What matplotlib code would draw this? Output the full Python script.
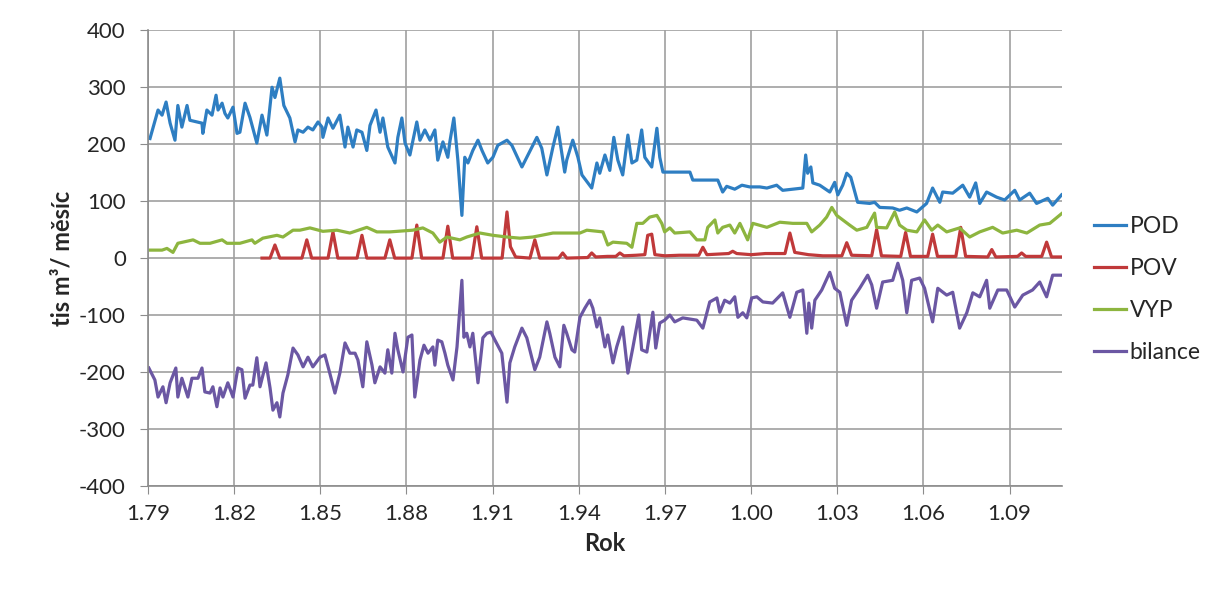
import matplotlib
matplotlib.use("Agg")
import matplotlib.pyplot as plt

# POD - odbery podzemni vody (tis. m3 / mesic)
pod_t = [1979.07, 1979.35, 1979.49, 1979.63, 1979.77, 1979.94, 1980.04, 1980.18, 1980.36, 1980.46,
         1980.88, 1980.91, 1981.05, 1981.23, 1981.37, 1981.44, 1981.58, 1981.68, 1981.78, 1981.96,
         1982.10, 1982.20, 1982.38, 1982.55, 1982.79, 1982.97, 1983.14, 1983.32, 1983.42, 1983.59,
         1983.73, 1983.94, 1984.12, 1984.22, 1984.40, 1984.57, 1984.74, 1984.92, 1985.06, 1985.09,
         1985.27, 1985.44, 1985.68, 1985.86, 1985.96, 1986.14, 1986.27, 1986.45, 1986.62, 1986.73,
         1986.94, 1987.08, 1987.18, 1987.35, 1987.60, 1987.70, 1987.84, 1987.95, 1988.12, 1988.36,
         1988.47, 1988.64, 1988.82, 1988.99, 1989.09, 1989.27, 1989.44, 1989.51, 1989.65, 1989.79,
         1989.93, 1990.03, 1990.14, 1990.31, 1990.49, 1990.63, 1990.83, 1991.01, 1991.18, 1991.50,
         1991.67, 1992.02, 1992.19, 1992.54, 1992.71, 1992.89, 1993.10, 1993.27, 1993.51, 1993.58,
         1993.79, 1993.97, 1994.11, 1994.45, 1994.63, 1994.73, 1994.91, 1995.08, 1995.22, 1995.36,
         1995.53, 1995.71, 1995.85, 1996.02, 1996.19, 1996.30, 1996.54, 1996.72, 1996.82, 1996.93,
         1997.87, 1997.97, 1998.84, 1999.01, 1999.15, 1999.43, 1999.68, 1999.95, 2000.30, 2000.55,
         2000.89, 2001.10, 2001.80, 2001.90, 2001.97, 2002.08, 2002.15, 2002.39, 2002.74, 2002.91,
         2003.02, 2003.19, 2003.33, 2003.47, 2003.61, 2003.71, 2004.13, 2004.30, 2004.48, 2004.93,
         2005.17, 2005.42, 2005.77, 2006.11, 2006.32, 2006.57, 2006.67, 2007.02, 2007.37, 2007.61,
         2007.82, 2007.96, 2008.20, 2008.55, 2008.83, 2009.18, 2009.35, 2009.70, 2009.94, 2010.33,
         2010.50, 2010.81]
pod_v = [210, 260, 251, 274, 237, 207, 268, 230, 268, 242,
         237, 219, 260, 251, 286, 260, 272, 254, 246, 265,
         219, 221, 272, 247, 202, 251, 216, 300, 282, 316,
         268, 246, 204, 225, 221, 230, 225, 239, 230, 212,
         246, 228, 251, 195, 230, 195, 225, 221, 189, 233,
         260, 221, 246, 195, 167, 212, 246, 202, 181, 239,
         207, 225, 207, 225, 172, 204, 177, 204, 246, 172,
         75, 177, 167, 189, 207, 189, 167, 177, 198, 207,
         198, 160, 177, 212, 193, 146, 195, 230, 151, 172,
         207, 177, 146, 123, 167, 149, 181, 154, 212, 172,
         146, 216, 167, 172, 225, 177, 160, 228, 177, 151,
         151, 137, 137, 116, 126, 121, 128, 125, 125, 123,
         128, 119, 123, 181, 149, 160, 132, 128, 116, 133,
         111, 128, 149, 142, 116, 98, 96, 98, 89, 88,
         84, 88, 81, 96, 123, 98, 116, 114, 128, 107,
         132, 96, 116, 107, 102, 119, 102, 114, 96, 105,
         93, 111]

# POV - odbery povrchove vody
pov_t = [1982.97, 1983.25, 1983.42, 1983.59, 1984.36, 1984.53, 1984.70, 1985.27, 1985.44, 1985.61,
         1986.28, 1986.45, 1986.62, 1987.25, 1987.42, 1987.59, 1988.19, 1988.36, 1988.53, 1989.27,
         1989.44, 1989.61, 1990.28, 1990.45, 1990.62, 1991.33, 1991.50, 1991.62, 1991.80, 1992.30,
         1992.47, 1992.64, 1993.30, 1993.44, 1993.58, 1994.31, 1994.45, 1994.59, 1995.00, 1995.29,
         1995.43, 1995.57, 1996.00, 1996.30, 1996.40, 1996.54, 1996.65, 1997.00, 1997.50, 1998.18,
         1998.32, 1998.46, 1999.22, 1999.36, 1999.50, 2000.00, 2000.50, 2001.18, 2001.35, 2001.52,
         2002.00, 2002.50, 2003.16, 2003.33, 2003.50, 2004.20, 2004.37, 2004.54, 2005.21, 2005.38,
         2005.55, 2006.15, 2006.32, 2006.49, 2007.13, 2007.30, 2007.47, 2008.24, 2008.38, 2008.52,
         2009.28, 2009.42, 2009.56, 2010.12, 2010.29, 2010.46, 2010.81]
pov_v = [0, 0, 23, 0, 0, 32, 0, 0, 46, 0,
         0, 40, 0, 0, 32, 0, 0, 58, 0, 0,
         56, 0, 0, 55, 0, 0, 81, 20, 2, 0,
         32, 0, 0, 9, 0, 1, 9, 2, 3, 3,
         9, 4, 5, 6, 40, 42, 6, 4, 5, 5,
         19, 6, 8, 12, 8, 6, 8, 8, 44, 10,
         6, 4, 4, 27, 5, 4, 50, 4, 3, 45,
         3, 3, 42, 3, 3, 54, 3, 2, 15, 2,
         3, 9, 3, 3, 28, 2, 2]

# VYP - vypousteni
vyp_t = [1979.07, 1979.49, 1979.66, 1979.87, 1980.04, 1980.57, 1980.81, 1981.16, 1981.58, 1981.75,
         1982.20, 1982.62, 1982.72, 1983.00, 1983.49, 1983.70, 1984.05, 1984.29, 1984.64, 1985.09,
         1985.58, 1986.03, 1986.62, 1986.97, 1987.42, 1988.22, 1988.57, 1988.92, 1989.16, 1989.41,
         1989.86, 1990.10, 1990.56, 1991.01, 1991.50, 1991.95, 1992.40, 1993.10, 1993.58, 1994.04,
         1994.28, 1994.84, 1995.01, 1995.19, 1995.67, 1995.85, 1996.02, 1996.23, 1996.47, 1996.72,
         1996.89, 1996.99, 1997.17, 1997.34, 1997.87, 1998.11, 1998.39, 1998.49, 1998.74, 1998.84,
         1999.01, 1999.26, 1999.43, 1999.61, 1999.88, 2000.06, 2000.55, 2001.00, 2001.45, 2001.94,
         2002.11, 2002.39, 2002.63, 2002.81, 2002.98, 2003.43, 2003.68, 2004.03, 2004.20, 2004.30,
         2004.37, 2004.72, 2005.00, 2005.17, 2005.42, 2005.77, 2006.04, 2006.29, 2006.50, 2006.81,
         2007.26, 2007.61, 2007.96, 2008.41, 2008.76, 2009.25, 2009.60, 2010.05, 2010.40, 2010.81]
vyp_v = [14, 14, 17, 10, 26, 32, 26, 26, 32, 26,
         26, 32, 26, 35, 40, 37, 49, 49, 53, 47,
         49, 44, 54, 46, 46, 49, 53, 44, 28, 37,
         32, 37, 44, 40, 37, 35, 37, 44, 44, 44,
         49, 46, 23, 28, 26, 19, 61, 61, 72, 75,
         61, 46, 53, 44, 46, 32, 32, 54, 67, 44,
         54, 58, 44, 61, 32, 61, 54, 63, 61, 61,
         46, 58, 72, 89, 75, 58, 49, 54, 70, 79,
         54, 53, 81, 58, 49, 46, 67, 49, 58, 46,
         53, 37, 46, 54, 44, 49, 44, 58, 61, 78]

# bilance
bil_t = [1979.03, 1979.24, 1979.35, 1979.52, 1979.63, 1979.77, 1979.97, 1980.04, 1980.18, 1980.39,
         1980.53, 1980.74, 1980.88, 1980.98, 1981.16, 1981.26, 1981.40, 1981.51, 1981.61, 1981.78,
         1981.96, 1982.13, 1982.27, 1982.38, 1982.55, 1982.65, 1982.79, 1982.90, 1983.11, 1983.25,
         1983.35, 1983.49, 1983.59, 1983.70, 1983.87, 1984.05, 1984.22, 1984.40, 1984.57, 1984.74,
         1984.99, 1985.16, 1985.33, 1985.51, 1985.68, 1985.86, 1986.03, 1986.21, 1986.31, 1986.48,
         1986.62, 1986.80, 1986.90, 1987.08, 1987.25, 1987.35, 1987.49, 1987.60, 1987.70, 1987.88,
         1988.05, 1988.19, 1988.29, 1988.47, 1988.61, 1988.75, 1988.92, 1988.99, 1989.09, 1989.23,
         1989.34, 1989.44, 1989.62, 1989.76, 1989.93, 1990.00, 1990.10, 1990.21, 1990.31, 1990.49,
         1990.66, 1990.80, 1990.94, 1991.08, 1991.32, 1991.50, 1991.60, 1991.77, 1992.02, 1992.19,
         1992.47, 1992.64, 1992.89, 1992.99, 1993.17, 1993.34, 1993.48, 1993.58, 1993.76, 1993.86,
         1994.04, 1994.21, 1994.38, 1994.49, 1994.63, 1994.73, 1994.91, 1995.01, 1995.19, 1995.32,
         1995.53, 1995.71, 1995.88, 1996.09, 1996.19, 1996.37, 1996.58, 1996.68, 1996.82, 1996.99,
         1997.17, 1997.34, 1997.62, 1998.11, 1998.32, 1998.56, 1998.81, 1998.91, 1999.08, 1999.26,
         1999.43, 1999.54, 1999.71, 1999.85, 2000.02, 2000.20, 2000.41, 2000.75, 2001.10, 2001.35,
         2001.59, 2001.80, 2001.94, 2002.01, 2002.11, 2002.22, 2002.46, 2002.74, 2002.91, 2003.09,
         2003.33, 2003.50, 2003.78, 2004.06, 2004.20, 2004.37, 2004.58, 2004.93, 2005.11, 2005.28,
         2005.42, 2005.59, 2005.87, 2006.04, 2006.32, 2006.50, 2006.81, 2007.02, 2007.26, 2007.51,
         2007.72, 2007.96, 2008.20, 2008.31, 2008.59, 2008.90, 2009.18, 2009.46, 2009.80, 2010.05,
         2010.29, 2010.50, 2010.81]
bil_v = [-193, -214, -244, -226, -254, -219, -193, -244, -211, -244,
         -211, -211, -193, -235, -237, -226, -261, -228, -244, -219,
         -244, -193, -196, -246, -223, -223, -175, -226, -184, -228,
         -267, -254, -279, -237, -205, -158, -170, -191, -174, -191,
         -174, -170, -202, -237, -202, -149, -167, -167, -179, -226,
         -147, -188, -219, -191, -202, -161, -202, -132, -161, -200,
         -139, -135, -244, -179, -153, -167, -156, -188, -144, -147,
         -167, -188, -214, -156, -39, -139, -132, -156, -132, -219,
         -140, -132, -130, -144, -167, -253, -184, -156, -123, -140,
         -196, -174, -112, -132, -174, -191, -118, -132, -161, -165,
         -104, -88, -74, -88, -121, -105, -156, -135, -184, -156,
         -121, -202, -158, -100, -161, -165, -95, -158, -114, -109,
         -100, -112, -105, -109, -123, -77, -70, -95, -74, -79,
         -68, -104, -96, -105, -70, -68, -77, -79, -61, -104,
         -60, -56, -132, -79, -123, -74, -56, -25, -53, -60,
         -118, -74, -53, -30, -47, -88, -42, -39, -9, -39,
         -96, -39, -35, -53, -112, -53, -65, -60, -123, -96,
         -61, -68, -39, -88, -56, -56, -86, -65, -56, -42,
         -68, -30, -30]

tick_years = [1979, 1982, 1985, 1988, 1991, 1994, 1997, 2000, 2003, 2006, 2009]
tick_labels = ["1.79", "1.82", "1.85", "1.88", "1.91", "1.94", "1.97", "1.00", "1.03", "1.06", "1.09"]

plt.rcParams["font.family"] = ["Lato", "DejaVu Sans"]
plt.rcParams["axes.unicode_minus"] = False

fig = plt.figure(figsize=(12.23, 5.94), dpi=100)
ax = fig.add_axes([0.121, 0.182, 0.747, 0.767])

lw = 2.3
ax.plot(pod_t, pod_v, color="#2e7ec2", lw=lw, label="POD")
ax.plot(pov_t, pov_v, color="#c0393a", lw=lw, label="POV")
ax.plot(vyp_t, vyp_v, color="#8db53f", lw=lw, label="VYP")
ax.plot(bil_t, bil_v, color="#6b57a3", lw=lw, label="bilance")

ax.set_xlim(1979, 2010.81)
ax.set_ylim(-400, 400)
ax.set_yticks(range(-400, 401, 100))
ax.set_xticks(tick_years)
ax.set_xticklabels(tick_labels)
ax.grid(True, color="#a0a0a0", lw=1.2)
ax.set_axisbelow(True)
for s in ["top", "right"]:
    ax.spines[s].set_visible(False)
for s in ["left", "bottom"]:
    ax.spines[s].set_color("#8c8c8c")
    ax.spines[s].set_linewidth(1.2)
ax.tick_params(axis="both", direction="out", length=6, color="#8c8c8c",
               labelsize=16, labelcolor="#262626")
ax.tick_params(axis="y", pad=10)
ax.tick_params(axis="x", pad=7)

ax.set_xlabel("Rok", fontsize=17, fontweight="bold", color="#262626", labelpad=6)
ax.set_ylabel("tis m\u00b3/ m\u011bs\u00edc", fontsize=17, fontweight="bold", color="#262626", labelpad=4)

ax.legend(loc="upper left", bbox_to_anchor=(0.887, 0.652), bbox_transform=fig.transFigure,
          frameon=False, fontsize=16.5, handlelength=1.4, handletextpad=0.15, labelspacing=0.92,
          borderaxespad=0, labelcolor="#262626")

fig.savefig("out.png", dpi=100, facecolor="white")
